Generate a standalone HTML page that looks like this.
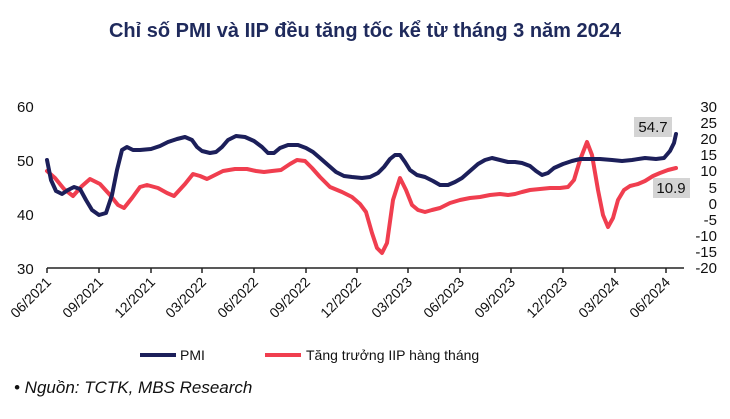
<!DOCTYPE html>
<html><head><meta charset="utf-8"><style>
body{margin:0;background:#fff;width:730px;height:414px;overflow:hidden;font-family:"Liberation Sans",sans-serif}
</style></head><body>
<svg width="730" height="414" xmlns="http://www.w3.org/2000/svg" font-family="Liberation Sans, sans-serif">
<text x="365" y="37" text-anchor="middle" font-size="20" font-weight="bold" fill="#1f2a5c">Chỉ số PMI và IIP đều tăng tốc kể từ tháng 3 năm 2024</text>
<g font-size="15" fill="#111">
<text x="17" y="112">60</text><text x="17" y="166">50</text><text x="17" y="220">40</text><text x="17" y="274">30</text>
<g text-anchor="end">
<text x="717" y="112">30</text><text x="717" y="128">25</text><text x="717" y="144">20</text><text x="717" y="160">15</text><text x="717" y="176">10</text><text x="717" y="193">5</text><text x="717" y="209">0</text><text x="717" y="225">-5</text><text x="717" y="241">-10</text><text x="717" y="257">-15</text><text x="717" y="273">-20</text>
</g></g>
<line x1="47" y1="268" x2="684" y2="268" stroke="#222" stroke-width="1.5"/>
<g stroke="#222" stroke-width="1.5">
<line x1="47" y1="268" x2="47" y2="273"/><line x1="99" y1="268" x2="99" y2="273"/><line x1="151" y1="268" x2="151" y2="273"/><line x1="202" y1="268" x2="202" y2="273"/><line x1="254" y1="268" x2="254" y2="273"/><line x1="306" y1="268" x2="306" y2="273"/><line x1="357" y1="268" x2="357" y2="273"/><line x1="408" y1="268" x2="408" y2="273"/><line x1="460" y1="268" x2="460" y2="273"/><line x1="511" y1="268" x2="511" y2="273"/><line x1="563" y1="268" x2="563" y2="273"/><line x1="615" y1="268" x2="615" y2="273"/><line x1="666" y1="268" x2="666" y2="273"/>
</g>
<g font-size="14" fill="#111" text-anchor="end">
<text transform="translate(52,283) rotate(-45)">06/2021</text><text transform="translate(104,283) rotate(-45)">09/2021</text><text transform="translate(156,283) rotate(-45)">12/2021</text><text transform="translate(207,283) rotate(-45)">03/2022</text><text transform="translate(259,283) rotate(-45)">06/2022</text><text transform="translate(311,283) rotate(-45)">09/2022</text><text transform="translate(362,283) rotate(-45)">12/2022</text><text transform="translate(413,283) rotate(-45)">03/2023</text><text transform="translate(465,283) rotate(-45)">06/2023</text><text transform="translate(516,283) rotate(-45)">09/2023</text><text transform="translate(568,283) rotate(-45)">12/2023</text><text transform="translate(620,283) rotate(-45)">03/2024</text><text transform="translate(671,283) rotate(-45)">06/2024</text>
</g>
<polyline fill="none" stroke="#f03e4f" stroke-width="4" stroke-linejoin="round" stroke-linecap="round" points="47,171 55,178 64,189 73,196 82,186 90,179 100,184 110,195 118,205 124,208 132,198 140,187 147,185 158,188 167,193 174,196 185,184 193,174 200,176 207,179 215,175 223,171 235,169 247,169 256,171 264,172 272,171 281,170 290,164 297,160 305,161 312,168 320,177 330,187 342,192 352,197 360,204 366,212 372,233 377,248 382,253 387,243 393,200 400,178 406,190 412,205 418,210 425,212 432,210 440,208 450,203 460,200 470,198 480,197 490,195 500,194 508,195 515,194 522,192 530,190 540,189 550,188 560,188 568,187 574,180 580,160 587,142 592,155 598,190 603,215 608,227 613,218 618,200 624,190 630,186 638,184 645,181 653,176 660,173 668,170 676,168"/>
<polyline fill="none" stroke="#1c1f5a" stroke-width="4" stroke-linejoin="round" stroke-linecap="round" points="47,160 51,180 56,191 62,194 68,190 74,187 80,189 86,200 92,210 99,215 106,213 112,195 117,170 122,150 127,147 133,150 140,150 151,149 160,146 168,142 177,139 185,137 192,140 197,147 202,151 210,153 216,152 222,147 228,140 236,136 245,137 254,141 262,147 268,153 274,153 280,148 288,145 298,145 306,148 313,152 320,158 328,165 336,172 344,176 352,177 362,178 370,177 378,173 384,167 390,159 395,155 400,155 405,162 410,170 417,175 425,177 433,181 440,185 448,185 455,182 462,178 470,171 478,164 485,160 492,158 500,160 508,162 515,162 522,163 530,166 536,171 542,175 548,173 554,168 563,164 572,161 580,159 590,159 600,159 612,160 622,161 632,160 645,158 656,159 664,158 670,151 674,143 676,134"/>
<rect x="634" y="117" width="38" height="20" fill="#d4d4d4"/>
<text x="653" y="132" font-size="15" text-anchor="middle" fill="#111">54.7</text>
<rect x="653" y="178" width="37" height="20" fill="#d4d4d4"/>
<text x="671" y="193" font-size="15" text-anchor="middle" fill="#111">10.9</text>
<line x1="140" y1="355" x2="176" y2="355" stroke="#1c1f5a" stroke-width="4"/>
<text x="180" y="360" font-size="14" fill="#111">PMI</text>
<line x1="265" y1="355" x2="301" y2="355" stroke="#f03e4f" stroke-width="4"/>
<text x="306" y="360" font-size="14" fill="#111">Tăng trưởng IIP hàng tháng</text>
<text x="14" y="393" font-size="17" font-style="italic" fill="#111">• Nguồn: TCTK, MBS Research</text>
</svg>
</body></html>
